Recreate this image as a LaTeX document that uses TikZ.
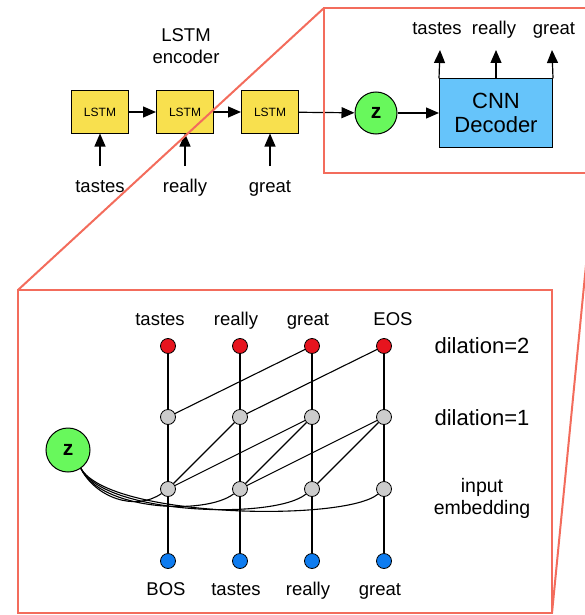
\documentclass[tikz,border=0pt]{standalone}
\usepackage{fontspec}
\setmainfont{Liberation Sans}
\usetikzlibrary{arrows.meta}
\definecolor{frameRed}{RGB}{243,108,92}
\definecolor{lstmYellow}{RGB}{248,224,78}
\definecolor{cnnBlue}{RGB}{102,196,250}
\definecolor{zGreen}{RGB}{104,248,92}
\definecolor{dotRed}{RGB}{230,20,30}
\definecolor{dotBlue}{RGB}{14,124,240}
\definecolor{dotGray}{RGB}{204,204,204}
\begin{document}
\begin{tikzpicture}[x=1pt,y=-1pt,
  lstmbox/.style={draw=black, line width=1pt, fill=lstmYellow, minimum width=57pt, minimum height=42pt, inner sep=0pt, font=\fontsize{12}{14}\selectfont},
  cnnbox/.style={draw=black, line width=1pt, fill=cnnBlue, minimum width=113pt, minimum height=68pt, inner sep=0pt, align=center, font=\fontsize{22}{24}\selectfont},
  zcirc/.style={circle, draw=black, line width=1pt, fill=zGreen, inner sep=0pt, font=\bfseries\fontsize{21}{24}\selectfont},
  arr/.style={-{Triangle[length=13pt,width=11pt]}, line width=1.2pt},
  lbl/.style={anchor=base, inner sep=0pt, font=\fontsize{18.5}{22}\selectfont},
  biglbl/.style={anchor=base, inner sep=0pt, font=\fontsize{22}{26}\selectfont},
  dot/.style={circle, draw=black, line width=0.8pt, minimum size=15pt, inner sep=0pt},
  reddot/.style={dot, fill=dotRed},
  graydot/.style={dot, fill=dotGray},
  bluedot/.style={dot, fill=dotBlue},
  vline/.style={line width=1.6pt},
  link/.style={line width=1.1pt},
  frame/.style={draw=frameRed, line width=2pt}
]
\useasboundingbox (0,0) rectangle (585,615);
\clip (0,0) rectangle (585,615);

% ---------- top: encoder ----------
\node[lstmbox] (l1) at (100,112) {LSTM};
\node[lstmbox] (l2) at (185,112) {LSTM};
\node[lstmbox] (l3) at (270,112) {LSTM};
\node[lbl] (enc1) at (186,41.5) {LSTM};
\node[lbl] (enc2) at (186,63.5) {encoder};
\node[lbl] (in1) at (100,192) {tastes};
\node[lbl] (in2) at (185,192) {really};
\node[lbl] (in3) at (270,192) {great};
\coordinate (ia1) at (100,166);
\coordinate (ia2) at (185,166);
\coordinate (ia3) at (270,166);
\draw[arr] (ia1) -- (l1.south);
\draw[arr] (ia2) -- (l2.south);
\draw[arr] (ia3) -- (l3.south);
\draw[arr] (l1) -- (l2);
\draw[arr] (l2) -- (l3);

\node[zcirc, minimum size=42pt] (z1) at (376,113) {z};
\draw[arr] (l3) -- (z1);
\node[cnnbox] (cnn) at (496,113) {CNN\\Decoder};
\draw[arr] (z1) -- (cnn);
\coordinate (oa1) at (440,50);
\coordinate (oa2) at (496,50);
\coordinate (oa3) at (552,50);
\draw[arr] (cnn.north west) -- (oa1);
\draw[arr] (cnn.north) -- (oa2);
\draw[arr] (cnn.north east) -- (oa3);
\node[lbl] (out1) at (437,35) {tastes};
\node[lbl] (out2) at (494,35) {really};
\node[lbl] (out3) at (554,35) {great};

% ---------- bottom: dilated CNN ----------
\foreach \i/\x in {1/168,2/240,3/312,4/384}{
  \node[reddot] (r\i) at (\x,346) {};
  \node[graydot] (g\i) at (\x,417) {};
  \node[graydot] (e\i) at (\x,489) {};
  \node[bluedot] (b\i) at (\x,561) {};
  \draw[vline] (r\i) -- (g\i);
  \draw[vline] (g\i) -- (e\i);
  \draw[vline] (e\i) -- (b\i);
}
\draw[link] (g1) -- (r3);
\draw[link] (g2) -- (r4);
\draw[link] (e1) -- (g2);
\draw[link] (e1) -- (g3);
\draw[link] (e2) -- (g3);
\draw[link] (e2) -- (g4);
\draw[link] (e3) -- (g4);

\node[zcirc, minimum size=44pt] (z2) at (68,450) {z};
\draw[link] (z2.-55) .. controls (95,497) and (135,512) .. (e1);
\draw[link] (z2.-55) .. controls (100,510) and (205,516) .. (e2);
\draw[link] (z2.-55) .. controls (105,515) and (275,520) .. (e3);
\draw[link] (z2.-55) .. controls (110,518) and (345,522) .. (e4);

\node[lbl] (t1) at (160,325) {tastes};
\node[lbl] (t2) at (236,325) {really};
\node[lbl] (t3) at (308,325) {great};
\node[lbl] (t4) at (393,325) {EOS};
\node[lbl] (s1) at (166,595) {BOS};
\node[lbl] (s2) at (236,595) {tastes};
\node[lbl] (s3) at (308,595) {really};
\node[lbl] (s4) at (380,595) {great};
\node[biglbl] (d2) at (482,353) {dilation=2};
\node[biglbl] (d1) at (482,425.5) {dilation=1};
\node[lbl, font=\fontsize{19.5}{22}\selectfont] (ie1) at (482,492) {input};
\node[lbl, font=\fontsize{19.5}{22}\selectfont] (ie2) at (482,514) {embedding};

% ---------- zoom frames ----------
\coordinate (ta) at (324,8);
\coordinate (tb) at (595,173);
\coordinate (ba) at (18,290);
\coordinate (bb) at (552,613);
\draw[frame] (ta) rectangle (tb);
\draw[frame] (ba) rectangle (bb);
\draw[frame] (ta) -- (ba);
\draw[frame] (tb) -- (bb);
\end{tikzpicture}
\end{document}
